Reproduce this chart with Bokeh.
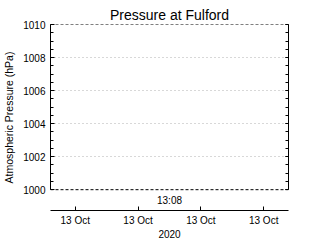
from bokeh.plotting import figure
from bokeh.models import Range1d, LinearAxis, SingleIntervalTicker, FixedTicker, Span, Label
from bokeh.embed import file_html
from bokeh.resources import INLINE

title_text = "Pressure at Fulford"
y_label = "Atmospheric Pressure (hPa)"
x_label = "2020"
y_ticks = [1000, 1002, 1004, 1006, 1008, 1010]
x_tick_pos = [0, 1, 2, 3]
x_tick_labels = ["13 Oct", "13 Oct", "13 Oct", "13 Oct"]
time_label = "13:08"

FONT = "Liberation Sans"
INK = "black"

y_start = y_ticks[0] - 1.26
x_pad = 0.395
xr = Range1d(x_tick_pos[0] - x_pad, x_tick_pos[-1] + x_pad)
yr = Range1d(y_start, y_ticks[-1])

p = figure(width=320, height=240, output_backend="svg", toolbar_location=None,
           x_range=xr, y_range=yr,
           min_border_left=47, min_border_right=32, min_border_top=24, min_border_bottom=28)
p.outline_line_color = None
p.background_fill_color = "white"
p.border_fill_color = "white"

p.title.text = title_text
p.title.align = "center"
p.title.text_font = FONT
p.title.text_font_size = "14px"
p.title.text_font_style = "normal"
p.title.text_color = INK
p.title.standoff = 4
p.title.offset = 0

# y axis (left)
ya = p.yaxis[0]
ya.bounds = (y_ticks[0], y_ticks[-1])
ya.ticker = SingleIntervalTicker(interval=2, num_minor_ticks=4)
ya.major_tick_in = 4
ya.major_tick_out = 0
ya.minor_tick_in = 3
ya.minor_tick_out = 0
ya.major_tick_line_color = INK
ya.minor_tick_line_color = INK
ya.major_label_standoff = 5
ya.major_label_text_font = FONT
ya.major_label_text_font_size = "10px"
ya.major_label_text_color = INK
ya.axis_label = y_label
ya.axis_label_text_font = FONT
ya.axis_label_text_font_size = "10.5px"
ya.axis_label_text_font_style = "normal"
ya.axis_label_text_color = INK
ya.axis_label_standoff = 5
ya.axis_line_color = INK

# right axis (ticks only, no visible labels)
ra = LinearAxis(bounds=(y_ticks[0], y_ticks[-1]),
                ticker=SingleIntervalTicker(interval=2, num_minor_ticks=4),
                major_tick_in=3, major_tick_out=0, minor_tick_in=3, minor_tick_out=0,
                major_tick_line_color=INK, minor_tick_line_color=INK, axis_line_color=INK,
                major_label_text_color=None, major_label_standoff=0,
                major_label_text_font_size="10px")
p.add_layout(ra, "right")

# x axis (bottom)
xa = p.xaxis[0]
xa.ticker = FixedTicker(ticks=x_tick_pos)
xa.major_label_overrides = {t: l for t, l in zip(x_tick_pos, x_tick_labels)}
xa.major_tick_in = 4
xa.major_tick_out = 0
xa.minor_tick_in = 0
xa.minor_tick_out = 0
xa.major_tick_line_color = INK
xa.axis_line_color = INK
xa.major_label_standoff = 4
xa.major_label_text_font = FONT
xa.major_label_text_font_size = "10px"
xa.major_label_text_color = INK
xa.axis_label = x_label
xa.axis_label_text_font = FONT
xa.axis_label_text_font_size = "10px"
xa.axis_label_text_font_style = "normal"
xa.axis_label_text_color = INK
xa.axis_label_standoff = 1

p.xgrid.visible = False
p.ygrid.ticker = FixedTicker(ticks=y_ticks[1:-1])
p.ygrid.grid_line_color = "#b0b0b0"
p.ygrid.grid_line_dash = "1 3"

for loc in (y_ticks[0], y_ticks[-1]):
    p.add_layout(Span(location=loc, dimension="width", line_color=INK,
                      line_width=1, line_dash="3 2"))

p.add_layout(Label(x=(xr.start + xr.end) / 2, y=(y_ticks[0] + y_start) / 2,
                   text=time_label, text_align="center", text_baseline="middle",
                   text_font=FONT, text_font_size="10px", text_color=INK))

open("out.html", "w").write(file_html(p, INLINE))
